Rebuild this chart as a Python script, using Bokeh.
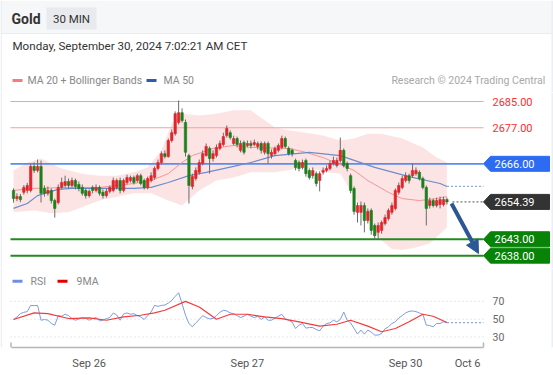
from bokeh.plotting import figure
from bokeh.layouts import column
from bokeh.models import Range1d, Arrow, NormalHead, FixedTicker, LinearAxis
from bokeh.core.properties import value
from bokeh.embed import file_html
from bokeh.resources import INLINE

# ---------------- data ----------------
opens = [2657.9, 2655.4, 2656.0, 2657.3, 2657.9, 2657.9, 2665.2, 2664.0, 2665.2, 2658.5,
         2657.0, 2657.9, 2654.8, 2654.2, 2658.8, 2659.4, 2660.6, 2659.4, 2660.9, 2659.7,
         2658.8, 2657.9, 2656.3, 2658.8, 2657.9, 2658.8, 2657.3, 2656.3, 2657.6, 2657.9,
         2658.8, 2660.9, 2657.9, 2660.3, 2660.9, 2661.8, 2660.9, 2662.4, 2660.9, 2658.8,
         2660.9, 2661.8, 2664.6, 2666.4, 2669.1, 2668.2, 2673.1, 2675.2, 2678.6, 2681.6,
         2678.6, 2668.5, 2659.1, 2661.5, 2663.4, 2666.1, 2668.5, 2670.7, 2667.6, 2668.5,
         2670.7, 2671.9, 2674.6, 2675.5, 2672.2, 2673.7, 2670.1, 2672.5, 2671.6, 2672.2,
         2671.9, 2671.3, 2672.2, 2669.5, 2672.2, 2668.5, 2669.1, 2670.1, 2671.0, 2673.7,
         2670.7, 2670.1, 2667.0, 2666.4, 2664.9, 2667.0, 2664.0, 2662.4, 2663.0, 2660.9,
         2663.4, 2664.0, 2664.6, 2666.1, 2665.5, 2667.0, 2670.1, 2666.1, 2662.4, 2658.5,
         2651.2, 2651.2, 2653.3, 2648.7, 2651.8, 2647.2, 2645.1, 2645.7, 2647.8, 2649.3,
         2651.2, 2652.4, 2657.3, 2658.8, 2660.9, 2662.4, 2662.4, 2663.0, 2663.4, 2661.5,
         2658.8, 2653.3, 2654.8, 2653.3, 2653.6, 2653.6, 2655.1]
closes = [2655.4, 2656.0, 2655.1, 2658.8, 2659.4, 2665.2, 2664.0, 2665.2, 2657.0, 2657.0,
          2657.9, 2654.8, 2652.4, 2658.8, 2660.3, 2660.6, 2659.4, 2660.9, 2659.1, 2658.5,
          2657.0, 2656.3, 2657.6, 2657.9, 2658.8, 2657.0, 2656.3, 2657.6, 2658.8, 2660.9,
          2660.9, 2657.9, 2660.9, 2661.8, 2661.8, 2660.3, 2662.4, 2660.0, 2658.8, 2661.5,
          2662.4, 2664.6, 2666.4, 2669.1, 2668.2, 2673.1, 2675.5, 2681.3, 2681.6, 2679.2,
          2669.5, 2659.4, 2662.1, 2664.0, 2666.4, 2669.1, 2671.3, 2667.6, 2669.1, 2671.0,
          2672.2, 2674.3, 2676.8, 2674.0, 2673.7, 2671.9, 2672.2, 2669.5, 2672.2, 2671.6,
          2672.5, 2672.2, 2670.1, 2672.2, 2669.1, 2669.5, 2670.7, 2671.6, 2673.7, 2671.3,
          2669.1, 2669.1, 2664.9, 2664.6, 2666.4, 2663.0, 2661.8, 2664.0, 2660.0, 2663.0,
          2664.0, 2664.6, 2666.1, 2667.0, 2667.0, 2670.1, 2665.5, 2664.6, 2657.9, 2651.5,
          2653.3, 2653.3, 2648.7, 2651.5, 2645.7, 2644.1, 2647.2, 2648.1, 2649.6, 2651.8,
          2653.3, 2657.9, 2659.4, 2661.5, 2662.4, 2660.9, 2664.0, 2664.0, 2661.5, 2658.8,
          2652.4, 2654.8, 2653.3, 2654.8, 2655.1, 2655.1, 2654.39]
highs = [2658.5, 2657.0, 2656.8, 2659.5, 2660.2, 2666.0, 2666.4, 2667.3, 2667.0, 2659.4,
         2659.1, 2658.5, 2655.4, 2659.7, 2661.8, 2662.4, 2661.5, 2661.8, 2661.5, 2660.6,
         2659.7, 2658.5, 2658.2, 2659.4, 2659.7, 2659.4, 2658.2, 2658.5, 2659.4, 2661.8,
         2661.5, 2661.8, 2661.5, 2662.7, 2662.4, 2662.4, 2663.0, 2663.0, 2661.5, 2662.1,
         2663.4, 2665.2, 2667.3, 2669.8, 2670.1, 2673.7, 2676.5, 2682.0, 2685.3, 2682.9,
         2679.5, 2669.1, 2663.0, 2664.9, 2667.3, 2670.1, 2672.2, 2671.3, 2670.1, 2671.9,
         2673.1, 2675.5, 2677.7, 2676.2, 2674.6, 2674.3, 2673.1, 2673.1, 2673.1, 2673.1,
         2673.4, 2672.8, 2672.8, 2672.8, 2672.8, 2670.4, 2671.3, 2672.2, 2674.6, 2674.3,
         2671.3, 2670.7, 2667.6, 2667.0, 2667.3, 2667.6, 2664.6, 2664.9, 2663.7, 2663.7,
         2664.9, 2665.5, 2667.0, 2668.2, 2667.9, 2674.0, 2670.7, 2666.7, 2663.0, 2659.1,
         2654.2, 2654.5, 2654.2, 2652.4, 2652.4, 2647.8, 2648.1, 2648.7, 2650.5, 2652.4,
         2654.2, 2658.5, 2660.3, 2662.4, 2663.4, 2663.0, 2666.1, 2664.9, 2664.0, 2662.1,
         2659.4, 2655.7, 2655.4, 2655.7, 2656.0, 2656.0, 2655.7]
lows = [2654.2, 2654.6, 2654.3, 2656.6, 2657.0, 2657.3, 2663.2, 2663.4, 2654.2, 2656.0,
        2656.3, 2653.9, 2649.6, 2653.6, 2658.2, 2658.8, 2658.5, 2658.8, 2658.2, 2657.6,
        2656.3, 2655.4, 2655.7, 2657.0, 2657.3, 2656.3, 2655.4, 2655.7, 2657.0, 2657.3,
        2658.2, 2657.0, 2657.3, 2659.7, 2660.3, 2659.7, 2660.3, 2659.4, 2658.2, 2658.2,
        2660.3, 2661.2, 2664.0, 2665.8, 2667.6, 2667.9, 2672.5, 2674.6, 2678.0, 2678.6,
        2668.2, 2653.9, 2658.2, 2660.9, 2662.7, 2665.5, 2668.2, 2663.0, 2666.7, 2667.9,
        2670.1, 2671.3, 2674.0, 2673.4, 2671.6, 2671.0, 2669.5, 2668.8, 2671.0, 2670.7,
        2671.3, 2670.4, 2669.1, 2668.8, 2666.1, 2667.6, 2668.5, 2669.5, 2670.4, 2670.7,
        2668.5, 2668.2, 2664.0, 2663.7, 2664.3, 2662.1, 2661.2, 2661.5, 2659.1, 2657.6,
        2662.7, 2663.4, 2664.0, 2665.5, 2664.9, 2666.4, 2664.9, 2663.7, 2657.0, 2650.5,
        2648.1, 2647.2, 2645.1, 2647.8, 2644.4, 2642.9, 2643.2, 2644.7, 2647.2, 2648.7,
        2650.5, 2651.8, 2656.6, 2658.2, 2660.3, 2660.0, 2661.8, 2662.4, 2660.9, 2658.2,
        2647.2, 2652.4, 2652.7, 2652.7, 2652.4, 2653.0, 2653.6]

ma50_bars = [0, 4, 7, 10, 13, 17, 25, 35, 40, 45, 51, 56, 64, 69, 76, 86, 95, 105, 115, 124, 126]
ma50 = [2652.4, 2653.9, 2656.3, 2657.3, 2658.2, 2658.5, 2658.5, 2658.5, 2658.8, 2660.3, 2662.4,
        2663.4, 2665.2, 2666.4, 2668.5, 2669.5, 2668.5, 2664.9, 2662.1, 2660.0, 2659.1]
ma20_bars = [0, 6, 16, 25, 35, 40, 45, 49, 52, 58, 64, 69, 80, 85, 90, 99, 103, 109, 113, 118, 123, 126]
ma20 = [2657.9, 2658.5, 2658.8, 2658.8, 2660.0, 2660.9, 2663.0, 2666.4, 2668.5, 2670.7, 2671.6,
        2671.0, 2670.7, 2669.5, 2667.9, 2664.0, 2660.9, 2657.3, 2655.4, 2654.8, 2655.4, 2656.0]
bb_upper_bars = [0, 4, 8, 14, 20, 25, 30, 35, 39, 43, 46, 49, 54, 59, 64, 69, 71, 76, 80, 85, 90,
                 95, 99, 103, 107, 113, 119, 123, 126]
bb_upper = [2664.0, 2666.4, 2667.6, 2664.6, 2663.0, 2662.4, 2662.4, 2663.4, 2664.9, 2670.1, 2678.3,
            2681.3, 2680.7, 2681.3, 2682.3, 2682.3, 2680.7, 2677.1, 2676.2, 2675.5, 2674.6, 2673.1,
            2673.7, 2675.2, 2675.2, 2673.7, 2671.0, 2667.9, 2666.5]
bb_lower_bars = [0, 6, 11, 16, 25, 35, 40, 45, 49, 54, 59, 64, 69, 76, 85, 91, 95, 98, 102, 106,
                 110, 113, 117, 121, 126]
bb_lower = [2651.2, 2651.8, 2650.9, 2651.2, 2654.8, 2657.0, 2657.0, 2654.8, 2653.3, 2657.9, 2660.9,
            2661.8, 2663.4, 2663.4, 2664.9, 2663.4, 2663.0, 2657.9, 2650.9, 2643.5, 2640.0, 2639.7,
            2640.5, 2641.7, 2646.6]

resist_levels = [2685.00, 2677.00]
pivot_level = 2666.00
last_price = 2654.39
support_levels = [2643.00, 2638.00]

rsi = [49.6, 52.5, 56.2, 57.7, 58.5, 65.5, 65.2, 65.5, 48.8, 49.6,
       48.8, 45.1, 43.2, 54.0, 53.3, 55.5, 54.0, 50.7, 48.8, 50.3,
       51.8, 51.0, 48.8, 50.7, 51.8, 48.1, 48.8, 50.7, 51.8, 57.0,
       54.8, 48.8, 55.9, 57.0, 55.5, 56.2, 54.0, 52.5, 49.6, 54.0,
       58.1, 65.5, 64.4, 65.5, 65.9, 68.1, 71.1, 75.6, 79.7, 67.4,
       54.4, 45.1, 41.4, 45.8, 49.6, 54.0, 51.8, 50.3, 50.7, 54.0,
       57.7, 60.0, 59.2, 57.0, 56.2, 54.0, 51.8, 53.3, 55.5, 53.3,
       51.8, 53.3, 49.6, 52.5, 48.8, 48.8, 51.0, 53.3, 55.5, 50.3,
       48.8, 46.6, 39.5, 43.2, 45.1, 39.9, 40.6, 40.6, 38.4, 36.9,
       42.1, 45.1, 45.8, 48.8, 47.0, 49.6, 58.1, 48.8, 45.8, 39.5,
       33.2, 37.7, 33.2, 37.7, 35.4, 32.1, 32.1, 33.9, 39.1, 41.4,
       45.1, 47.0, 51.4, 54.0, 57.0, 58.8, 59.2, 58.5, 57.0, 55.5,
       43.2, 42.9, 41.4, 45.1, 45.1, 47.0, 46.2]
rsi9_bars = [0, 6, 10, 16, 22, 27, 32, 37, 41, 44, 50, 54, 59, 63, 68, 73, 78, 83, 89, 94, 98,
             103, 107, 111, 115, 119, 122, 126]
rsi9 = [49.6, 57.0, 56.2, 50.7, 51.4, 48.8, 52.5, 54.4, 57.0, 60.0, 70.0, 63.7, 49.9, 55.5, 55.5,
        52.5, 50.7, 47.0, 42.1, 44.3, 48.8, 42.1, 35.8, 39.5, 47.0, 55.5, 53.3, 46.2]
rsi_levels = [70, 50, 30]

tick_bars = [22, 68, 114, 132]
tick_labels = ["Sep 26", "Sep 27", "Sep 30", "Oct 6"]

FONT = value("Roboto")
W = 553
EDGE = "#eceef1"


# page-pixel -> data helpers (page x/y of the screenshot)
def bx(px):
    return (px - 13) / 3.44


def py(pyy):
    return 2685 - (pyy - 101) / 3.28


def ry(pyy):
    return 70 - (pyy - 301.3) / 0.9


def bare(fig):
    fig.grid.visible = False
    fig.outline_line_color = None
    fig.background_fill_color = "white"
    fig.border_fill_color = "white"


# ---------------- header ----------------
h = figure(width=W, height=92, x_range=Range1d(0, W), y_range=Range1d(92, 0),
           output_backend="svg", toolbar_location=None, min_border=0,
           x_axis_location=None, y_axis_location=None)
bare(h)
h.quad(left=0, right=W, top=0, bottom=33, fill_color="#f6f7f9", line_color=None)
h.segment(x0=0, y0=33, x1=W, y1=33, line_color="#eaecef", line_width=1)
h.quad(left=0, right=1.5, top=0, bottom=92, fill_color=EDGE, line_color=None)
h.quad(left=551, right=553, top=0, bottom=92, fill_color=EDGE, line_color=None)
h.quad(left=46, right=96, top=7, bottom=29, fill_color="#e8eaed", line_color=None)
h.text(x=11, y=18, text=["Gold"], text_font=FONT, text_font_size="14px",
       text_font_style="bold", text_color="#333333", text_baseline="middle")
h.text(x=71, y=18, text=["30 MIN"], text_font=FONT, text_font_size="11.5px",
       text_color="#333333", text_baseline="middle", text_align="center")
h.text(x=12, y=45, text=["Monday, September 30, 2024 7:02:21 AM CET"], text_font=FONT,
       text_font_size="11.6px", text_color="#333333", text_baseline="middle")
h.quad(left=12, right=22, top=78.5, bottom=81.5, fill_color="#f47c7c", line_color=None)
h.text(x=27, y=80, text=["MA 20 + Bollinger Bands"], text_font=FONT, text_font_size="10.5px",
       text_color="#888888", text_baseline="middle")
h.quad(left=146, right=156, top=78.5, bottom=81.5, fill_color="#2f5ea8", line_color=None)
h.text(x=163, y=80, text=["MA 50"], text_font=FONT, text_font_size="10.5px",
       text_color="#888888", text_baseline="middle")
h.text(x=545, y=80, text=["Research © 2024 Trading Central"], text_font=FONT,
       text_font_size="10.5px", text_color="#a8a8a8", text_baseline="middle", text_align="right")

# ---------------- main price chart ----------------
p = figure(width=W, height=176, x_range=Range1d(bx(0), bx(553)), y_range=Range1d(py(268), py(92)),
           output_backend="svg", toolbar_location=None, min_border=0,
           x_axis_location=None, y_axis_location=None)
bare(p)
for fig_, yr in ((p, (py(268), py(92))),):
    fig_.quad(left=bx(0), right=bx(1.5), bottom=yr[0], top=yr[1], fill_color=EDGE, line_color=None)
    fig_.quad(left=bx(551), right=bx(553), bottom=yr[0], top=yr[1], fill_color=EDGE, line_color=None)

# Bollinger band
p.patch(x=bb_upper_bars + bb_lower_bars[::-1], y=bb_upper + bb_lower[::-1],
        fill_color="#fde1e1", fill_alpha=0.9, line_color=None)

# level lines
xl, xr = bx(10), bx(483)
p.segment(x0=[xl] * 2, y0=resist_levels, x1=[xr] * 2, y1=resist_levels,
          line_color="#ff9c9c", line_width=1.2)
p.segment(x0=xl, y0=pivot_level, x1=xr, y1=pivot_level, line_color="#5b8cf0", line_width=1.8)
p.segment(x0=[xl] * 2, y0=support_levels, x1=[xr] * 2, y1=support_levels,
          line_color="#238a23", line_width=2)

# moving averages
p.line(ma20_bars, ma20, line_color="#f59595", line_width=1)
p.line(ma50_bars, ma50, line_color="#6d8ccb", line_width=1.2)

# candles
idx = list(range(len(closes)))
up_c = ["#e0252b" if c >= o else "#1d7f1d" for o, c in zip(opens, closes)]
p.segment(x0=idx, y0=lows, x1=idx, y1=highs, line_color="#6b6b6b", line_width=1)
p.vbar(x=idx, width=0.7, top=[max(o, c) for o, c in zip(opens, closes)],
       bottom=[min(o, c) for o, c in zip(opens, closes)], fill_color=up_c,
       line_color=up_c, line_width=0.6)

# extensions
p.segment(x0=ma50_bars[-1], y0=ma50[-1], x1=xr, y1=ma50[-1], line_color="#8ea6d8",
          line_width=1.3, line_dash="2 2")
p.segment(x0=bx(452), y0=last_price, x1=xr, y1=last_price, line_color="#777777",
          line_width=1.2, line_dash="2 2")

# forecast arrow
p.add_layout(Arrow(end=NormalHead(size=13, fill_color="#2b5797", line_color="#2b5797"),
                   x_start=bx(451), y_start=py(203), x_end=bx(478), y_end=py(253),
                   line_color="#2b5797", line_width=4))

# level labels
p.text(x=[bx(492)] * 2, y=resist_levels, text=["%.2f" % v for v in resist_levels],
       text_font=FONT, text_font_size="11px", text_color="#ff2d2d", text_baseline="middle")

hh = 7.5 / 3.28
boxes = [(pivot_level, "#2d6cf2"), (last_price, "#333333"),
         (support_levels[0], "#078307"), (support_levels[1], "#078307")]
for lv, col in boxes:
    p.patch(x=[bx(483), bx(490), bx(549), bx(549), bx(490)],
            y=[lv, lv + hh, lv + hh, lv - hh, lv - hh], fill_color=col, line_color=col)
p.text(x=[bx(494)] * 4, y=[b[0] for b in boxes], text=["%.2f" % b[0] for b in boxes],
       text_font=FONT, text_font_size="11px", text_color="white", text_baseline="middle")

# ---------------- RSI panel ----------------
r = figure(width=W, height=104, x_range=Range1d(bx(0), bx(553)), y_range=Range1d(ry(348), ry(268)),
           output_backend="svg", toolbar_location=None, min_border=0, min_border_bottom=24,
           x_axis_location=None, y_axis_location=None)
bare(r)
r.quad(left=bx(0), right=bx(1.5), bottom=ry(348), top=ry(268), fill_color=EDGE, line_color=None)
r.quad(left=bx(551), right=bx(553), bottom=ry(348), top=ry(268), fill_color=EDGE, line_color=None)

r.segment(x0=[xl] * 3, y0=rsi_levels, x1=[xr] * 3, y1=rsi_levels, line_color="#cfcfcf",
          line_width=1, line_dash="1 3")
r.text(x=[bx(492)] * 3, y=rsi_levels, text=[str(v) for v in rsi_levels], text_font=FONT,
       text_font_size="10.5px", text_color="#666666", text_baseline="middle")

r.line(list(range(len(rsi))), rsi, line_color="#7d9be6", line_width=1)
r.line(rsi9_bars, rsi9, line_color="#f23c3c", line_width=1.2)
r.segment(x0=len(rsi) - 1, y0=rsi[-1], x1=xr, y1=rsi[-1], line_color="#8ea6e8",
          line_width=1.3, line_dash="2 2")

# legend
r.quad(left=bx(12), right=bx(22), top=ry(279.5), bottom=ry(282.5), fill_color="#6f8fe0", line_color=None)
r.text(x=bx(30), y=ry(281), text=["RSI"], text_font=FONT, text_font_size="10.5px",
       text_color="#888888", text_baseline="middle")
r.quad(left=bx(57), right=bx(67), top=ry(279.5), bottom=ry(282.5), fill_color="#e00000", line_color=None)
r.text(x=bx(76), y=ry(281), text=["9MA"], text_font=FONT, text_font_size="10.5px",
       text_color="#888888", text_baseline="middle")

# time axis
ax = LinearAxis(ticker=FixedTicker(ticks=tick_bars),
                major_label_overrides={t: l for t, l in zip(tick_bars, tick_labels)},
                bounds=(bx(10.5), bx(483)), axis_line_color="#b5b5b5", axis_line_width=1.5,
                major_tick_line_color=None, minor_tick_line_color=None,
                major_label_text_font="Roboto", major_label_text_font_size="11px",
                major_label_text_color="#555555", major_label_standoff=3)
r.add_layout(ax, "below")
r.segment(x0=[bx(10.5), bx(483)], y0=[ry(348)] * 2, x1=[bx(10.5), bx(483)], y1=[ry(343)] * 2,
          line_color="#b5b5b5", line_width=1.5)

# bottom card edge
f = figure(width=W, height=3, x_range=Range1d(0, W), y_range=Range1d(0, 3),
           output_backend="svg", toolbar_location=None, min_border=0,
           x_axis_location=None, y_axis_location=None)
f.grid.visible = False
f.outline_line_color = None
f.background_fill_color = EDGE
f.border_fill_color = EDGE

layout = column(h, p, r, f, spacing=0)
open("out.html", "w").write(file_html(layout, INLINE))
